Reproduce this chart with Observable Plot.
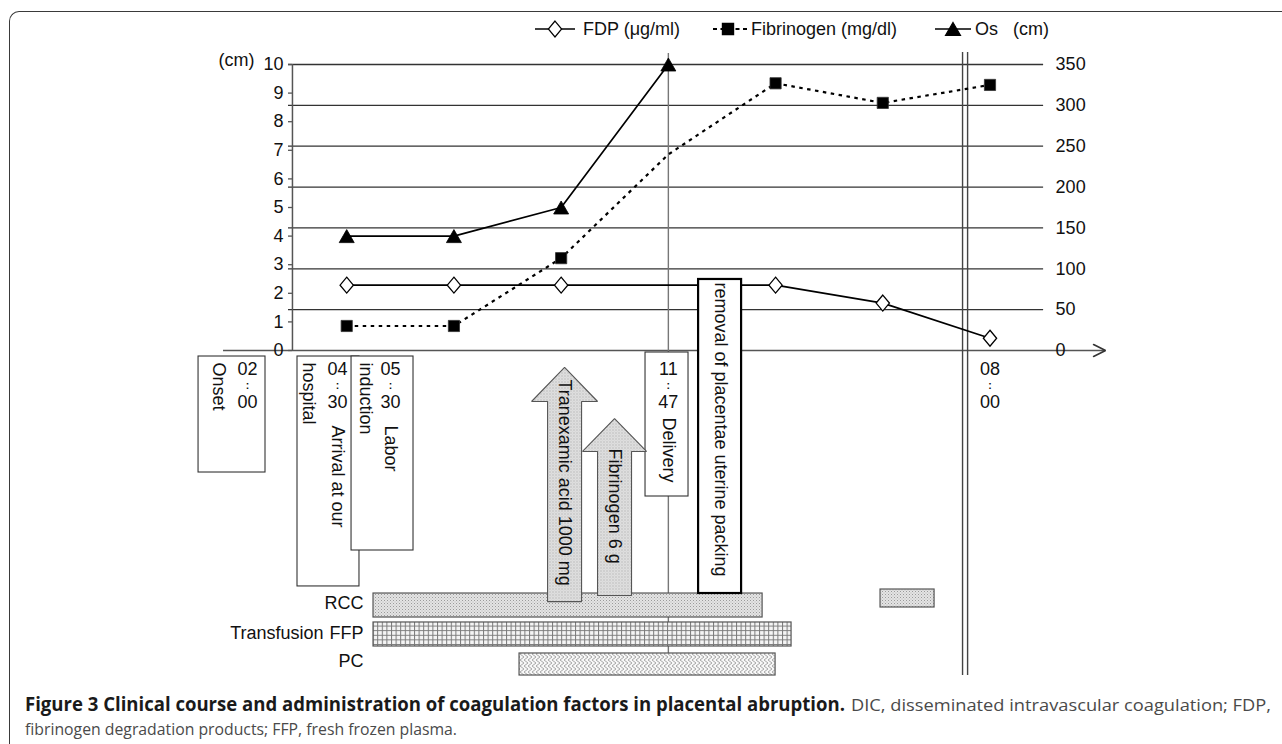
<!DOCTYPE html>
<html>
<head>
<meta charset="utf-8">
<script src="https://cdn.jsdelivr.net/npm/d3@7"></script>
<script src="https://cdn.jsdelivr.net/npm/@observablehq/plot@0.6"></script>
<style>
html, body { margin:0; padding:0; background:#fff; }
#wrap { position:relative; width:1282px; height:744px; overflow:hidden; background:#fff; }
#chart { position:absolute; left:0; top:0; }
#legend { position:absolute; left:0; top:0; }
#caption { position:absolute; left:0; top:688px; }
#frame { position:absolute; left:9px; top:11px; width:1320px; height:780px; box-sizing:border-box;
  border-left:1.6px solid #3a3a3a; border-top:1.6px solid #3a3a3a; border-top-left-radius:10px; pointer-events:none; }
</style>
</head>
<body>
<div id="wrap">
  <div id="chart"></div>
  <svg id="legend" width="1282" height="50"></svg>
  <svg id="caption" width="1282" height="56"></svg>
  <div id="frame"></div>
</div>
<script>
// ================= DATA =================
const timePoints = [1, 2, 3, 4, 5, 6, 7];
const osCm = [4, 4, 5, 10, null, null, null];              // left axis (cm)
const fdpUgMl = [80, 80, 80, null, 80, 58, 15];             // right axis
const fibrinogenMgDl = [30, 30, 113, 240, 327, 303, 325];   // right axis
const fibrinogenMarked = [true, true, true, false, true, true, true];
const leftTicks = [0, 1, 2, 3, 4, 5, 6, 7, 8, 9, 10];
const rightTicks = [0, 50, 100, 150, 200, 250, 300, 350];

const eventTimes = ["02:00", "04:30", "05:30", "11:47", "08:00"];
const eventTimeAt = [0.075, 0.914, 1.409, 4, 7];            // on the time axis
const eventLabels = ["Onset", "hospital", "Arrival at our", "induction", "Labor", "Delivery",
  "removal of placentae uterine packing"];
const treatmentLabels = ["Tranexamic acid 1000 mg", "Fibrinogen 6 g"];
const transfusionRows = ["RCC", "FFP", "PC"];
const transfusionProduct = ["RCC", "FFP", "PC", "RCC"];
const transfusionStart = [1.25, 1.25, 2.612, 5.979];
const transfusionEnd = [4.879, 5.149, 5.0, 6.483];

// ================= LAYOUT (annotation geometry, in axis units) =================
const rightToLeft = r => r / 35;            // 350 on the right axis == 10 on the left axis
const axisX = 0.494, gridStart = 0.457, gridEnd = 7.5;
const xAxisStart = -0.149, xAxisEnd = 8.07;
const hhY = -0.647, colonY = -1.224, mmY = -1.801;
const labelPos = [
  {x: -0.196, y: -0.42}, {x: 0.644, y: -0.42}, {x: 0.914, y: -2.62}, {x: 1.175, y: -0.42},
  {x: 1.409, y: -2.62}, {x: 4, y: -2.34}, {x: 4.487, y: 2.38}
];
const boxes = [
  {x1: -0.382, x2: 0.2425, y1: -0.21, y2: -4.266, heavy: false},
  {x1: 0.541, x2: 1.119, y1: -0.21, y2: -8.25, heavy: false},
  {x1: 1.045, x2: 1.623, y1: -0.21, y2: -6.993, heavy: false},
  {x1: 3.787, x2: 4.188, y1: -0.07, y2: -5.105, heavy: false},
  {x1: 4.282, x2: 4.683, y1: 2.483, y2: -8.497, heavy: true}
];
const arrowGeom = [
  {x: 3.032, shaft: 0.1585, head: 0.308, tip: -0.594, base: -1.783, bottom: -8.78, textY: -1.01},
  {x: 3.498, shaft: 0.1585, head: 0.2985, tip: -2.378, base: -3.531, bottom: -8.566, textY: -3.43}
];
const rowBand = {RCC: [-8.497, -9.336], FFP: [-9.51, -10.35], PC: [-10.594, -11.364]};
const rowLabelY = {RCC: -8.846, FFP: -9.895, PC: -10.874};
const rowLabelX = 1.157, groupLabelX = 0.784;
const vLines = [
  {x: 4, top: 10.385, bottom: -10.594, stroke: "#777"},
  {x: 6.744, top: 10.42, bottom: -11.364, stroke: "#444"},
  {x: 6.791, top: 10.42, bottom: -11.364, stroke: "#444"}
];

// ================= BUILD =================
const series = timePoints.map((t, i) => ({
  t, os: osCm[i], fdp: fdpUgMl[i], fib: fibrinogenMgDl[i], marked: fibrinogenMarked[i]
}));

const triSym = {draw(c, s) { const r = Math.sqrt(s / Math.PI); c.moveTo(0, -0.93 * r); c.lineTo(1.07 * r, 0.93 * r); c.lineTo(-1.07 * r, 0.93 * r); c.closePath(); }};
const diaSym = {draw(c, s) { const r = Math.sqrt(s / Math.PI); c.moveTo(0, -1.14 * r); c.lineTo(0.95 * r, 0); c.lineTo(0, 1.14 * r); c.lineTo(-0.95 * r, 0); c.closePath(); }};
const sqSym = {draw(c, s) { const r = Math.sqrt(s / Math.PI); const h = 0.8 * r; c.moveTo(-h, -h); c.lineTo(h, -h); c.lineTo(h, h); c.lineTo(-h, h); c.closePath(); }};

const times = eventTimes.map((t, i) => ({x: eventTimeAt[i], hh: t.split(":")[0], mm: t.split(":")[1]}));
const labels = eventLabels.map((t, i) => ({text: t, ...labelPos[i]}));
const arrowPts = [];
arrowGeom.forEach((a, k) => {
  [[a.x - a.shaft, a.bottom], [a.x - a.shaft, a.base], [a.x - a.head, a.base], [a.x, a.tip],
   [a.x + a.head, a.base], [a.x + a.shaft, a.base], [a.x + a.shaft, a.bottom], [a.x - a.shaft, a.bottom]]
    .forEach(([x, y]) => arrowPts.push({id: k, x, y}));
});
const arrowText = treatmentLabels.map((t, i) => ({text: t, x: arrowGeom[i].x, y: arrowGeom[i].textY}));
const bars = transfusionProduct.map((p, i) => {
  const lift = i === 3 ? 0.14 : 0;
  return {product: p, x1: transfusionStart[i], x2: transfusionEnd[i], y1: rowBand[p][0] + lift, y2: rowBand[p][1] + 0.21 * (i === 3 ? 1 : 0) + lift};
});
const patternOf = {RCC: "url(#pDots)", FFP: "url(#pGrid)", PC: "url(#pZig)"};
const chev = [{x: 7.966, y: 0.21}, {x: 8.078, y: 0}, {x: 7.966, y: -0.21}];
const font = "'Liberation Sans', Arial, sans-serif";

const svg = Plot.plot({
  width: 1282, height: 688, margin: 0,
  x: {domain: [0, 7], range: [239, 989.5], axis: null},
  y: {domain: [0, 10], range: [350, 64], axis: null},
  style: {fontFamily: font, fontSize: "18px", background: "transparent", overflow: "visible", color: "#111"},
  marks: [
    // grid + axes
    Plot.ruleY(rightTicks.filter(r => r > 0), {y: rightToLeft, x1: gridStart, x2: gridEnd, stroke: "#333", strokeWidth: 1.3}),
    Plot.ruleY(leftTicks, {y: d => d, x1: gridStart, x2: axisX, stroke: "#555", strokeWidth: 1.3}),
    Plot.ruleX([axisX], {y1: 0, y2: 10, stroke: "#555", strokeWidth: 1.5}),
    Plot.ruleY([0], {x1: xAxisStart, x2: xAxisEnd, stroke: "#555", strokeWidth: 1.5}),
    Plot.line(chev, {x: "x", y: "y", stroke: "#333", strokeWidth: 1.6, strokeLinejoin: "miter"}),
    Plot.text(leftTicks, {x: axisX, y: d => d, text: d => String(d), textAnchor: "end", dx: -9, fontSize: 18}),
    Plot.text(rightTicks, {x: gridEnd, y: rightToLeft, text: d => String(d), textAnchor: "start", dx: 12, fontSize: 18}),
    Plot.text(["(cm)"], {x: axisX, y: 10, text: d => d, textAnchor: "end", dx: -38, dy: -4, fontSize: 18}),
    // vertical reference lines
    Plot.ruleX(vLines, {x: "x", y1: "top", y2: "bottom", stroke: d => d.stroke, strokeWidth: 1.4}),
    // series
    Plot.line(series.filter(d => d.fdp != null), {x: "t", y: d => rightToLeft(d.fdp), stroke: "#000", strokeWidth: 1.7}),
    Plot.line(series, {x: "t", y: d => rightToLeft(d.fib), stroke: "#000", strokeWidth: 2.2, strokeDasharray: "3.5,4.5", strokeLinecap: "butt"}),
    Plot.line(series.filter(d => d.os != null), {x: "t", y: "os", stroke: "#000", strokeWidth: 1.7}),
    Plot.dot(series.filter(d => d.fdp != null), {x: "t", y: d => rightToLeft(d.fdp), r: 7, symbol: diaSym, fill: "#fff", stroke: "#000", strokeWidth: 1.3}),
    Plot.dot(series.filter(d => d.marked), {x: "t", y: d => rightToLeft(d.fib), r: 7, symbol: sqSym, fill: "#000", stroke: "#333", strokeWidth: 0.8}),
    Plot.dot(series.filter(d => d.os != null), {x: "t", y: "os", r: 7, symbol: triSym, fill: "#000", stroke: "#000", strokeWidth: 0.8}),
    // transfusion bars
    ...transfusionRows.map(p => Plot.rect(bars.filter(b => b.product === p), {x1: "x1", x2: "x2", y1: "y1", y2: "y2", fill: patternOf[p], stroke: "#555", strokeWidth: 1.2})),
    Plot.text(transfusionRows, {x: rowLabelX, y: d => rowLabelY[d], text: d => d, textAnchor: "end", fontSize: 18}),
    Plot.text(["Transfusion"], {x: groupLabelX, y: rowLabelY.FFP, text: d => d, textAnchor: "end", fontSize: 18}),
    // event boxes
    Plot.rect(boxes.filter(b => !b.heavy), {x1: "x1", x2: "x2", y1: "y1", y2: "y2", fill: "#fff", stroke: "#333", strokeWidth: 1.1}),
    Plot.rect(boxes.filter(b => b.heavy), {x1: "x1", x2: "x2", y1: "y1", y2: "y2", fill: "#fff", stroke: "#000", strokeWidth: 2.2}),
    // treatment arrows
    Plot.line(arrowPts, {x: "x", y: "y", z: "id", fill: "url(#pDots)", stroke: "#555", strokeWidth: 1.1, strokeLinejoin: "miter"}),
    Plot.text(arrowText, {x: "x", y: "y", text: "text", rotate: 90, textAnchor: "start", lineAnchor: "middle", fontSize: 18}),
    // event texts: upright stacked times, then rotated labels
    Plot.text(times, {x: "x", y: hhY, text: "hh", textAnchor: "middle", fontSize: 18}),
    Plot.text(times, {x: "x", y: colonY, text: () => ":", textAnchor: "middle", fontSize: 10.5, fontWeight: "bold"}),
    Plot.text(times, {x: "x", y: mmY, text: "mm", textAnchor: "middle", fontSize: 18}),
    Plot.text(labels, {x: "x", y: "y", text: "text", rotate: 90, textAnchor: "start", lineAnchor: "middle", fontSize: 18})
  ]
});

const defs = document.createElementNS("http://www.w3.org/2000/svg", "defs");
defs.innerHTML = `
<pattern id="pDots" width="3" height="3" patternUnits="userSpaceOnUse">
  <rect width="3" height="3" fill="#e4e4e4"/>
  <rect x="0" y="0" width="1" height="1" fill="#9a9a9a"/>
  <rect x="1.5" y="1.5" width="1" height="1" fill="#b4b4b4"/>
</pattern>
<pattern id="pGrid" width="4.6" height="4.6" patternUnits="userSpaceOnUse">
  <rect width="4.6" height="4.6" fill="#f4f4f4"/>
  <path d="M0,0.5H4.6M0.5,0V4.6" stroke="#7a7a7a" stroke-width="1"/>
</pattern>
<pattern id="pZig" width="8" height="6" patternUnits="userSpaceOnUse">
  <rect width="8" height="6" fill="#f7f7f7"/>
  <path d="M0,0L4,3L0,6M4,0L8,3L4,6" stroke="#a8a8a8" fill="none" stroke-width="1"/>
</pattern>`;
svg.insertBefore(defs, svg.firstChild);
document.getElementById("chart").appendChild(svg);

// ================= LEGEND =================
const legendItems = [
  {label: "FDP (μg/ml)", sym: diaSym, fill: "#fff", dash: null},
  {label: "Fibrinogen (mg/dl)", sym: sqSym, fill: "#000", dash: "4,3.5"},
  {label: "Os", sym: triSym, fill: "#000", dash: null}
];
const legendLayout = [{x0: 535, x1: 575, sx: 555, tx: 583}, {x0: 713, x1: 748, sx: 728, tx: 751}, {x0: 935, x1: 971, sx: 953, tx: 975}];
const ly = 29;
const leg = d3.select("#legend").style("font-family", font).style("font-size", "18px");
legendItems.forEach((it, i) => {
  const L = legendLayout[i];
  leg.append("line").attr("x1", L.x0).attr("x2", L.x1).attr("y1", ly).attr("y2", ly)
    .attr("stroke", "#000").attr("stroke-width", it.dash ? 2.2 : 1.7).attr("stroke-dasharray", it.dash);
  leg.append("path").attr("d", d3.symbol().type(it.sym).size(Math.PI * 49)())
    .attr("transform", `translate(${L.sx},${ly})`).attr("fill", it.fill).attr("stroke", "#000").attr("stroke-width", 1.2);
  leg.append("text").attr("x", L.tx).attr("y", ly).attr("dy", "0.35em").attr("fill", "#111").text(it.label);
});
leg.append("text").attr("x", 1013).attr("y", ly).attr("dy", "0.35em").attr("fill", "#111").text("(cm)");

// ================= CAPTION =================
const cap = d3.select("#caption").style("font-family", "'Open Sans', 'Noto Sans', sans-serif");
cap.append("text").attr("x", 25).attr("y", 23).attr("font-weight", "bold").attr("fill", "#1a1a1a")
  .attr("font-size", 19).attr("textLength", 820).attr("lengthAdjust", "spacingAndGlyphs")
  .text("Figure 3 Clinical course and administration of coagulation factors in placental abruption.");
cap.append("text").attr("x", 851).attr("y", 23).attr("fill", "#4a4a4a")
  .attr("font-size", 17).attr("textLength", 420).attr("lengthAdjust", "spacingAndGlyphs")
  .text("DIC, disseminated intravascular coagulation; FDP,");
cap.append("text").attr("x", 25).attr("y", 47).attr("fill", "#4a4a4a")
  .attr("font-size", 17).attr("textLength", 432).attr("lengthAdjust", "spacingAndGlyphs")
  .text("fibrinogen degradation products; FFP, fresh frozen plasma.");
</script>
</body>
</html>
